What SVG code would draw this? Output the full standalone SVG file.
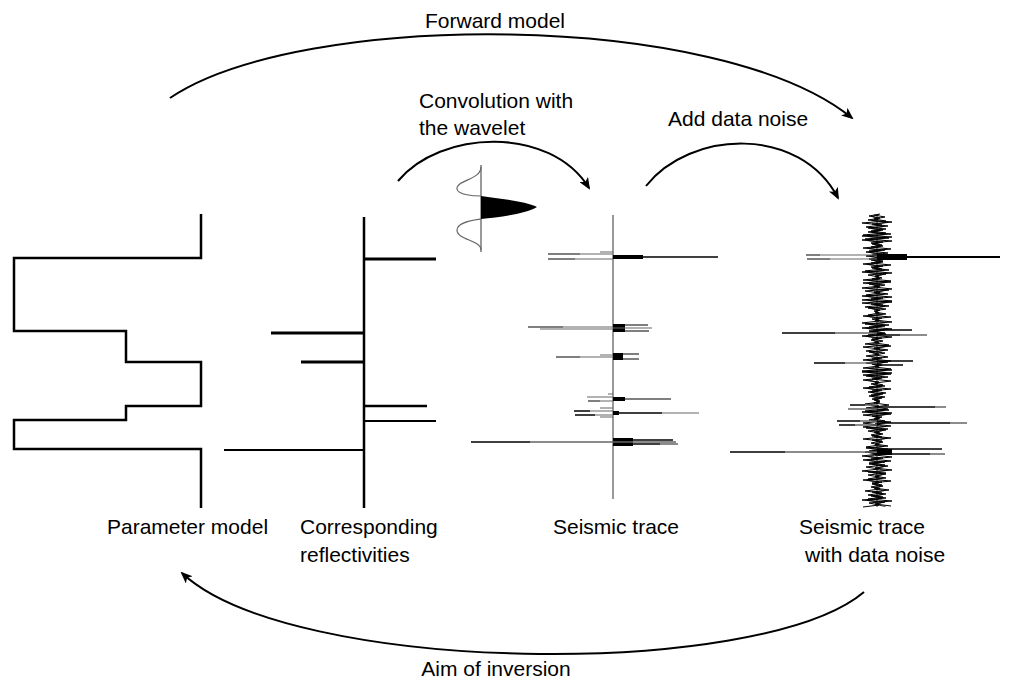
<svg xmlns="http://www.w3.org/2000/svg" xmlns:xlink="http://www.w3.org/1999/xlink" width="1014" height="682" viewBox="0 0 1014 682">
<style>
text{font-family:"Liberation Sans",Arial,sans-serif;font-size:21px;fill:#000}
.blk{stroke:#000;fill:none}
.gry{stroke:#666;fill:none}
.ax{stroke:#777;stroke-width:1.5;fill:none}
.conn{stroke:#000;stroke-width:2;fill:none;marker-end:url(#arr)}
</style>
<defs>
<marker id="arr" viewBox="0 0 12 10" refX="10" refY="5" markerWidth="12" markerHeight="10" markerUnits="userSpaceOnUse" orient="auto">
<path d="M0,0 L12,5 L0,10 L3,5 Z" fill="#000"/>
</marker>
</defs>
<rect width="1014" height="682" fill="#fff"/>

<g id="connectors">
<path class="conn" d="M170,98 C300,10 720,10 852,118"/>
<path class="conn" d="M398,181 C440,130 550,125 589,188"/>
<path class="conn" d="M646,186 C690,130 800,125 838,198"/>
<path class="conn" d="M864,592 C760,680 290,675 182,573"/>
</g>

<g id="labels">
<text x="495" y="28" text-anchor="middle">Forward model</text>
<text x="419" y="108">Convolution with</text>
<text x="419" y="135">the wavelet</text>
<text x="668" y="126">Add data noise</text>
<text x="496" y="676" text-anchor="middle">Aim of inversion</text>
</g>

<g id="parameter-model">
<path class="blk" stroke-width="2.5" d="M201,214 V258 H14 V331 H126 V362 H201 V406 H126 V420 H14 V449 H201 V508"/>
<text x="107" y="534">Parameter model</text>
</g>

<g id="reflectivities">
<path class="blk" stroke-width="2.5" d="M364,217 V508"/>
<path class="blk" stroke-width="3" d="M364,259 H436 M271,333 H364 M301,362 H364"/>
<path class="blk" stroke-width="2.5" d="M364,406 H427"/>
<path class="blk" stroke-width="2" d="M364,421 H436 M224,450 H364"/>
<text x="300" y="534">Corresponding</text>
<text x="300" y="562">reflectivities</text>
</g>

<g id="wavelet">
<path class="ax" stroke-width="1" d="M481,165 V252"/>
<path class="gry" stroke="#999" stroke-width="1.2" d="M481,167 C481,180 456,180 457,189 C458,195 474,196 481,196"/>
<path d="M481,196 C500,199 525,201 537,207 C525,214 500,217 481,219 Z" fill="#000"/>
<path class="gry" stroke="#999" stroke-width="1.2" d="M481,219 C474,220 457,222 457,230 C457,240 481,240 481,250"/>
</g>

<g id="seismic-trace">
<path class="ax" d="M613,215 V499"/>
<rect x="613" y="255" width="30" height="4" fill="#000"/>
<path class="blk" stroke-width="1.5" d="M613,257 H718"/>
<path class="blk" stroke-width="1.2" d="M548,254 H580 M548,259 H575"/>
<path class="gry" stroke-width="1.2" d="M580,254 H613 M575,259 H613 M600,252 H613"/>
<rect x="613" y="324" width="12" height="8" fill="#000"/>
<path class="blk" stroke-width="1.2" d="M528,327 H563 M613,325 H648 M613,331 H649"/>
<path class="gry" stroke-width="1.2" d="M563,327 H613 M613,328 H652 M540,329 H613"/>
<rect x="613" y="353" width="10" height="7" fill="#000"/>
<path class="blk" stroke-width="1.2" d="M556,357 H580 M613,354 H639 M613,359 H639"/>
<path class="gry" stroke-width="1.2" d="M580,357 H613 M600,355 H613"/>
<rect x="613" y="397" width="12" height="4" fill="#000"/>
<path class="blk" stroke-width="1.2" d="M588,401 H600 M613,399 H671"/>
<path class="gry" stroke-width="1.2" d="M587,397 H613 M600,401 H613 M608,394 H613"/>
<rect x="613" y="411" width="6" height="4" fill="#000"/>
<path class="blk" stroke-width="1.5" d="M574,411 H590 M575,415 H595 M613,413 H662"/>
<path class="gry" stroke-width="1.2" d="M590,411 H613 M595,415 H613 M662,413 H699 M600,408 H613 M600,417 H613"/>
<rect x="613" y="438" width="20" height="8" fill="#000"/>
<path class="blk" stroke-width="1.3" d="M471,442 H530 M613,440 H673 M613,444 H660"/>
<path class="gry" stroke-width="1.3" d="M530,442 H613 M660,444 H678 M613,442 H676"/>
<text x="553" y="534">Seismic trace</text>
</g>

<g id="noisy-trace">
<path class="ax" d="M877,214 V507"/>
<polyline id="noise" class="blk" stroke-width="1" points="880,214 869,216 880,218 868,220 892,222 872,224 888,226 868,228 883,230 868,232 891,234 862,236 889,238 862,240 883,242 872,244 883,246 863,248 885,250 866,252 882,254 866,256 885,258 871,260 883,262 863,264 883,266 872,268 889,270 862,272 886,274 875,276 882,278 863,280 891,282 869,284 880,286 862,288 889,290 874,292 888,294 862,296 883,298 862,300 892,302 871,304 889,306 868,308 880,310 875,312 886,314 863,316 882,318 875,320 892,322 865,324 885,326 862,328 885,330 869,332 886,334 862,336 882,338 871,340 879,342 865,344 891,346 874,348 888,350 869,352 879,354 866,356 882,358 863,360 888,362 872,364 879,366 863,368 892,370 862,372 891,374 866,376 882,378 863,380 879,382 871,384 885,386 863,388 882,390 868,392 883,394 869,396 882,398 874,400 880,402 865,404 879,406 866,408 889,410 862,412 891,414 872,416 880,418 869,420 891,422 875,424 891,426 866,428 886,430 874,432 883,434 872,436 891,438 872,440 883,442 875,444 888,446 866,448 885,450 865,452 879,454 862,456 883,458 863,460 885,462 869,464 888,466 875,468 892,470 868,472 886,474 875,476 886,478 863,480 882,482 872,484 883,486 874,488 889,490 872,492 886,494 871,496 886,498 862,500 885,502 875,504 891,506"/>
<use xlink:href="#noise" href="#noise" transform="translate(1754,1) scale(-1,1)" style="stroke:#666"/>
<use xlink:href="#noise" href="#noise" transform="translate(350.8,0.5) scale(0.6,1)"/>
<rect x="877" y="254" width="30" height="6" fill="#000"/>
<path class="blk" stroke-width="1.8" d="M877,257 H1000"/>
<path class="blk" stroke-width="1.2" d="M806,255 H820 M807,259 H830"/>
<path class="gry" stroke-width="1.2" d="M820,255 H877 M830,259 H877"/>
<path class="blk" stroke-width="1.3" d="M782,333 H835 M877,330 H912 M877,335 H900"/>
<path class="gry" stroke-width="1.3" d="M835,333 H877 M900,335 H927"/>
<path class="blk" stroke-width="1.3" d="M814,363 H845 M877,361 H913 M877,365 H903"/>
<path class="gry" stroke-width="1.3" d="M845,363 H877"/>
<path class="blk" stroke-width="1.3" d="M850,405 H865 M877,407 H935"/>
<path class="gry" stroke-width="1.3" d="M848,409 H877 M865,405 H877 M935,407 H946"/>
<path class="blk" stroke-width="1.3" d="M837,421 H860 M839,425 H855 M877,423 H950"/>
<path class="gry" stroke-width="1.3" d="M860,421 H877 M855,425 H877 M950,423 H967"/>
<rect x="877" y="449" width="15" height="6" fill="#000"/>
<path class="blk" stroke-width="1.3" d="M730,452 H785 M877,449 H942 M877,454 H930"/>
<path class="gry" stroke-width="1.3" d="M785,452 H877 M930,454 H945"/>
<text x="799" y="534">Seismic trace</text>
<text x="805" y="562">with data noise</text>
</g>
</svg>
